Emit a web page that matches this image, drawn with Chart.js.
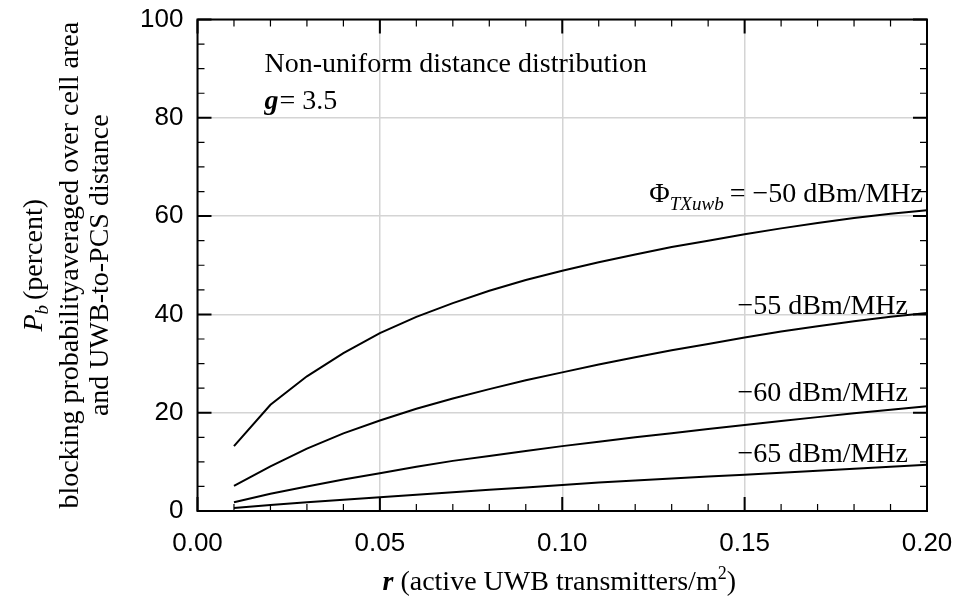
<!DOCTYPE html>
<html>
<head>
<meta charset="utf-8">
<script src="https://cdn.jsdelivr.net/npm/chart.js@4"></script>
<style>
  body { margin: 0; background: #fff; }
  #wrap { width: 969px; height: 610px; }
</style>
</head>
<body>
<div id="wrap"><canvas id="myChart" width="969" height="610"></canvas></div>
<script>
// density of active transmitters (per m^2)
const rho = [0.01, 0.02, 0.03, 0.04, 0.05, 0.06, 0.07, 0.08, 0.09, 0.10,
             0.11, 0.12, 0.13, 0.14, 0.15, 0.16, 0.17, 0.18, 0.19, 0.20];

// blocking probability (percent) for each transmit PSD
const pb50 = [13.2, 21.6, 27.4, 32.1, 36.2, 39.5, 42.3, 44.8, 47.0, 48.9,
              50.6, 52.2, 53.7, 55.0, 56.3, 57.5, 58.6, 59.6, 60.5, 61.2];
const pb55 = [5.1, 9.1, 12.7, 15.8, 18.4, 20.8, 22.9, 24.8, 26.6, 28.2,
              29.8, 31.3, 32.7, 34.0, 35.3, 36.5, 37.6, 38.6, 39.5, 40.3];
const pb60 = [1.8, 3.5, 5.0, 6.4, 7.7, 9.0, 10.2, 11.2, 12.2, 13.2,
              14.1, 15.0, 15.8, 16.7, 17.5, 18.3, 19.1, 19.9, 20.6, 21.3];
const pb65 = [0.6, 1.2, 1.8, 2.3, 2.8, 3.3, 3.8, 4.3, 4.8, 5.3,
              5.8, 6.2, 6.6, 7.0, 7.4, 7.8, 8.2, 8.6, 9.0, 9.4];

const psdLabels = ['\u221250 dBm/MHz', '\u221255 dBm/MHz', '\u221260 dBm/MHz', '\u221265 dBm/MHz'];

const xMajor = [0.00, 0.05, 0.10, 0.15, 0.20];
const yMajor = [0, 20, 40, 60, 80, 100];

const SERIF = '"Liberation Serif", "Times New Roman", serif';
const SANS = '"Liberation Sans", Arial, sans-serif';

function pts(ys) {
    return rho.map((r, i) => ({ x: r, y: ys[i] }));
}

// draws a row of text pieces with their own fonts / vertical shifts
function drawRuns(ctx, runs, x, y, align) {
    let total = 0;
    runs.forEach(r => { ctx.font = r.f; total += ctx.measureText(r.t).width + (r.gap || 0); });
    let cx = x;
    if (align === 'right') cx = x - total;
    else if (align === 'center') cx = x - total / 2;
    ctx.textAlign = 'left';
    ctx.textBaseline = 'alphabetic';
    runs.forEach(r => {
        ctx.font = r.f;
        ctx.fillText(r.t, cx, y + (r.dy || 0));
        cx += ctx.measureText(r.t).width + (r.gap || 0);
    });
}

const framePlugin = {
    id: 'frame',
    afterDraw(chart) {
        const ctx = chart.ctx;
        const a = chart.chartArea;
        const xs = chart.scales.x, ys = chart.scales.y;
        ctx.save();
        ctx.strokeStyle = '#000';
        ctx.fillStyle = '#000';

        // inward tick marks on all four sides
        for (let i = 0; i <= 20; i++) {
            const px = xs.getPixelForValue(i * 0.01);
            const major = i % 5 === 0;
            const len = major ? 14 : 7;
            ctx.lineWidth = major ? 2 : 1.2;
            ctx.beginPath();
            ctx.moveTo(px, a.bottom); ctx.lineTo(px, a.bottom - len);
            ctx.moveTo(px, a.top); ctx.lineTo(px, a.top + len);
            ctx.stroke();
        }
        for (let v = 0; v <= 100; v += 5) {
            const py = ys.getPixelForValue(v);
            const major = v % 20 === 0;
            const len = major ? 14 : 7;
            ctx.lineWidth = major ? 2 : 1.2;
            ctx.beginPath();
            ctx.moveTo(a.left, py); ctx.lineTo(a.left + len, py);
            ctx.moveTo(a.right, py); ctx.lineTo(a.right - len, py);
            ctx.stroke();
        }
        ctx.lineWidth = 2;
        ctx.strokeRect(a.left, a.top, a.right - a.left, a.bottom - a.top);

        // notes inside the plot
        const big = '28px ' + SERIF;
        drawRuns(ctx, [{ t: 'Non-uniform distance distribution', f: big }], a.left + 67, a.top + 52);
        drawRuns(ctx, [
            { t: 'g', f: 'italic bold 28px ' + SERIF, gap: 1 },
            { t: '= 3.5', f: big }
        ], a.left + 67, a.top + 89);

        // curve labels, right-aligned just inside the frame
        const rx = a.right - 4;
        drawRuns(ctx, [
            { t: '\u03A6', f: big },
            { t: 'TXuwb', f: 'italic 19px ' + SERIF, dy: 8, gap: 6 },
            { t: '= ' + psdLabels[0], f: big }
        ], rx, ys.getPixelForValue(62.8), 'right');
        drawRuns(ctx, [{ t: psdLabels[1], f: big }], rx - 15, ys.getPixelForValue(40.1), 'right');
        drawRuns(ctx, [{ t: psdLabels[2], f: big }], rx - 15, ys.getPixelForValue(22.4), 'right');
        drawRuns(ctx, [{ t: psdLabels[3], f: big }], rx - 15, ys.getPixelForValue(9.9), 'right');

        // x axis title
        drawRuns(ctx, [
            { t: 'r', f: 'italic bold 28px ' + SERIF },
            { t: ' (active UWB transmitters/m', f: big },
            { t: '2', f: '18px ' + SERIF, dy: -11 },
            { t: ')', f: big }
        ], (a.left + a.right) / 2 - 3, 590, 'center');

        // y axis title, three rotated lines
        const cy = (a.top + a.bottom) / 2;
        const lines = [
            { x: 42, runs: [
                { t: 'P', f: 'italic 28px ' + SERIF },
                { t: 'b', f: 'italic 19px ' + SERIF, dy: 6, gap: 5 },
                { t: '(percent)', f: big }
            ] },
            { x: 78, runs: [{ t: 'blocking probabilityaveraged over cell area', f: big }] },
            { x: 108, runs: [{ t: 'and UWB-to-PCS distance', f: big }] }
        ];
        lines.forEach(l => {
            ctx.save();
            ctx.translate(l.x, cy);
            ctx.rotate(-Math.PI / 2);
            drawRuns(ctx, l.runs, 0, 0, 'center');
            ctx.restore();
        });
        ctx.restore();
    }
};

const curve = (ys) => ({
    data: pts(ys),
    borderColor: '#000',
    borderWidth: 2,
    pointRadius: 0,
    fill: false,
    tension: 0
});

new Chart(document.getElementById('myChart'), {
    type: 'line',
    data: {
        datasets: [curve(pb50), curve(pb55), curve(pb60), curve(pb65)]
    },
    options: {
        responsive: false,
        animation: false,
        layout: { padding: { top: 19.5, right: 42, left: 0, bottom: 0 } },
        plugins: { legend: { display: false }, tooltip: { enabled: false } },
        scales: {
            x: {
                type: 'linear',
                min: 0,
                max: 0.2,
                afterBuildTicks: s => { s.ticks = xMajor.map(v => ({ value: v })); },
                afterFit: s => { s.height = 99; s.paddingLeft = 0; s.paddingRight = 0; },
                grid: { color: '#d4d4d4', lineWidth: 1.5, drawTicks: false },
                border: { display: false },
                ticks: {
                    padding: 17,
                    color: '#000',
                    maxRotation: 0,
                    font: { family: SANS, size: 26 },
                    callback: v => Number(v).toFixed(2)
                }
            },
            y: {
                min: 0,
                max: 100,
                afterBuildTicks: s => { s.ticks = yMajor.map(v => ({ value: v })); },
                afterFit: s => { s.width = 197.5; s.paddingTop = 0; s.paddingBottom = 0; },
                grid: { color: '#d4d4d4', lineWidth: 1.5, drawTicks: false },
                border: { display: false },
                ticks: {
                    padding: 14,
                    color: '#000',
                    font: { family: SANS, size: 26 }
                }
            }
        }
    },
    plugins: [framePlugin]
});
</script>
</body>
</html>
